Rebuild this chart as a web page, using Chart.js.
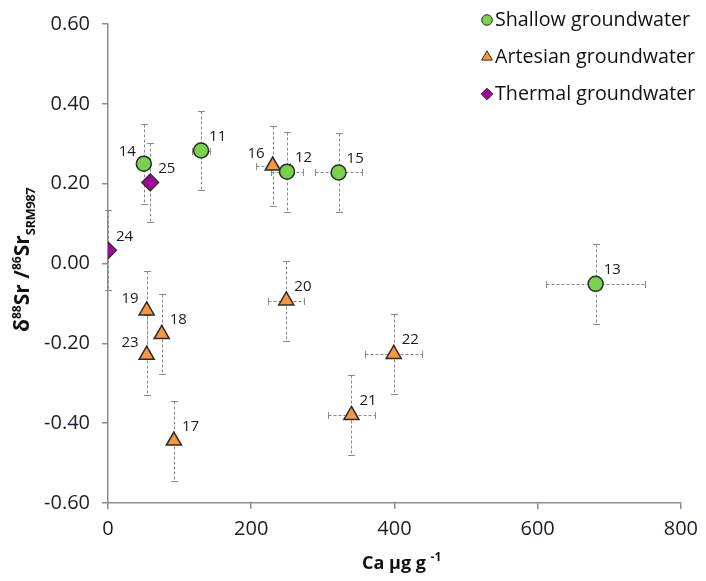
<!DOCTYPE html>
<html>
<head>
<meta charset="utf-8">
<script src="https://cdn.jsdelivr.net/npm/chart.js@4.4.0/dist/chart.umd.min.js"></script>
<style>
  body { margin: 0; background: #fff; }
  #wrap { width: 706px; height: 581px; }
</style>
</head>
<body>
<div id="wrap"><canvas id="myChart" width="706" height="581"></canvas></div>
<script>
// sample numbers, Ca (µg/g), d88Sr and the error bars
const shallowIds = ['11', '12', '13', '14', '15'];
const shallowCa = [130, 250, 681, 50, 322];
const shallowSr = [0.283, 0.230, -0.051, 0.250, 0.228];
const shallowCaErr = [12, 23, 69, 0, 33];
const shallowSrErr = [0.1, 0.1, 0.1, 0.1, 0.1];

const artesianIds = ['16', '17', '18', '19', '20', '21', '22', '23'];
const artesianCa = [230, 92, 75, 54, 249, 340, 399, 54];
const artesianSr = [0.245, -0.444, -0.177, -0.118, -0.093, -0.380, -0.227, -0.229];
const artesianCaErr = [24, 0, 0, 0, 25, 33, 40, 0];
const artesianSrErr = [0.1, 0.1, 0.1, 0.1, 0.1, 0.1, 0.1, 0.1];

const thermalIds = ['24', '25'];
const thermalCa = [0, 59];
const thermalSr = [0.033, 0.203];
const thermalCaErr = [0, 0];
const thermalSrErr = [0.1, 0.1];

const xTicks = [0, 200, 400, 600, 800];
const yTicks = [-0.6, -0.4, -0.2, 0, 0.2, 0.4, 0.6];

function points(ids, ca, sr, caErr, srErr) {
    return ca.map(function (c, i) {
        return { x: c, y: sr[i], xErr: caErr[i], yErr: srErr[i], id: ids[i] };
    });
}

const axisColor = '#8c8c8c';
const leftLabels = ['14', '16', '19', '23'];

// dashed error bars, drawn under the markers
const errorBars = {
    id: 'errorBars',
    beforeDatasetsDraw(chart) {
        const ctx = chart.ctx, xs = chart.scales.x, ys = chart.scales.y;
        ctx.save();
        ctx.strokeStyle = '#8a8a8a';
        ctx.lineWidth = 1;
        chart.data.datasets.forEach(function (ds) {
            ds.data.forEach(function (p) {
                const px = Math.round(xs.getPixelForValue(p.x)) + 0.5;
                const py = Math.round(ys.getPixelForValue(p.y)) + 0.5;
                if (p.yErr) {
                    const t = Math.round(ys.getPixelForValue(p.y + p.yErr)) + 0.5;
                    const b = Math.round(ys.getPixelForValue(p.y - p.yErr)) + 0.5;
                    ctx.setLineDash([3, 2]);
                    ctx.beginPath(); ctx.moveTo(px, t); ctx.lineTo(px, b); ctx.stroke();
                    ctx.setLineDash([]);
                    ctx.beginPath();
                    ctx.moveTo(px - 3.5, t); ctx.lineTo(px + 3.5, t);
                    ctx.moveTo(px - 3.5, b); ctx.lineTo(px + 3.5, b);
                    ctx.stroke();
                }
                if (p.xErr) {
                    const l = Math.round(xs.getPixelForValue(p.x - p.xErr)) + 0.5;
                    const r = Math.round(xs.getPixelForValue(p.x + p.xErr)) + 0.5;
                    ctx.setLineDash([3, 2]);
                    ctx.beginPath(); ctx.moveTo(l, py); ctx.lineTo(r, py); ctx.stroke();
                    ctx.setLineDash([]);
                    ctx.beginPath();
                    ctx.moveTo(l, py - 3.5); ctx.lineTo(l, py + 3.5);
                    ctx.moveTo(r, py - 3.5); ctx.lineTo(r, py + 3.5);
                    ctx.stroke();
                }
            });
        });
        ctx.restore();
    }
};

// sample numbers next to the points
const pointLabels = {
    id: 'pointLabels',
    afterDatasetsDraw(chart) {
        const ctx = chart.ctx, xs = chart.scales.x, ys = chart.scales.y;
        ctx.save();
        ctx.font = '15px "Open Sans"';
        ctx.fillStyle = '#1a1a1a';
        ctx.textBaseline = 'middle';
        chart.data.datasets.forEach(function (ds) {
            ds.data.forEach(function (p) {
                const px = xs.getPixelForValue(p.x), py = ys.getPixelForValue(p.y);
                if (leftLabels.indexOf(p.id) >= 0) {
                    ctx.textAlign = 'right';
                    ctx.fillText(p.id, px - 8, py - 12);
                } else {
                    ctx.textAlign = 'left';
                    ctx.fillText(p.id, px + 8, py - 14);
                }
            });
        });
        ctx.restore();
    }
};

// legend in the top right corner and the two axis titles
const extras = {
    id: 'extras',
    afterDraw(chart) {
        const ctx = chart.ctx;
        ctx.save();
        chart.data.datasets.forEach(function (ds, i) {
            const y = 20 + 37 * i;
            ctx.fillStyle = ds.backgroundColor;
            ctx.strokeStyle = ds.borderColor;
            Chart.helpers.drawPoint(ctx, { pointStyle: ds.pointStyle, radius: ds.legendRadius, borderWidth: 1.2, rotation: 0 }, 487, y);
            ctx.fillStyle = '#111';
            ctx.font = '19.7px "Open Sans"';
            ctx.textAlign = 'left';
            ctx.textBaseline = 'middle';
            ctx.fillText(ds.label, 495, y);
        });

        // x title
        ctx.fillStyle = '#111';
        ctx.textBaseline = 'alphabetic';
        ctx.textAlign = 'left';
        ctx.font = 'bold 18px "Open Sans"';
        const xt = 'Ca µg g ';
        ctx.fillText(xt, 362, 569);
        const w = ctx.measureText(xt).width;
        ctx.font = 'bold 12px "Open Sans"';
        ctx.fillText('-1', 362 + w, 561);

        // y title
        ctx.translate(29, 332);
        ctx.rotate(-Math.PI / 2);
        let x = 0;
        const parts = [
            ['δ', 21, 0], ['88', 12, -8], ['Sr /', 21, 0], ['86', 12, -8], ['Sr', 21, 0], ['SRM987', 13, 6]
        ];
        parts.forEach(function (pt) {
            ctx.font = 'bold ' + pt[1] + 'px "Open Sans"';
            ctx.letterSpacing = pt[0] === 'SRM987' ? '-0.5px' : '0px';
            ctx.fillText(pt[0], x, pt[2]);
            x += ctx.measureText(pt[0]).width;
        });
        ctx.restore();
    }
};

const ctx = document.getElementById('myChart').getContext('2d');
const myChart = new Chart(ctx, {
    type: 'scatter',
    data: {
        datasets: [{
            label: 'Shallow groundwater',
            data: points(shallowIds, shallowCa, shallowSr, shallowCaErr, shallowSrErr),
            pointStyle: 'circle',
            pointRadius: 7.5,
            legendRadius: 5.3,
            backgroundColor: '#78d24a',
            borderColor: '#2b2b2b',
            borderWidth: 1.5
        }, {
            label: 'Artesian groundwater',
            data: points(artesianIds, artesianCa, artesianSr, artesianCaErr, artesianSrErr),
            pointStyle: 'triangle',
            pointRadius: 8.7,
            legendRadius: 6.2,
            backgroundColor: '#f7973f',
            borderColor: '#2b2b2b',
            borderWidth: 1.5
        }, {
            label: 'Thermal groundwater',
            data: points(thermalIds, thermalCa, thermalSr, thermalCaErr, thermalSrErr),
            pointStyle: 'rectRot',
            pointRadius: 8.5,
            legendRadius: 5.8,
            backgroundColor: '#a1069c',
            borderColor: '#2b2b2b',
            borderWidth: 1.2
        }]
    },
    options: {
        responsive: false,
        animation: false,
        events: [],
        layout: { padding: { left: 0, right: 22, top: 16, bottom: 0 } },
        plugins: { legend: { display: false }, tooltip: { enabled: false } },
        scales: {
            x: {
                type: 'linear',
                min: 0, max: 800,
                afterBuildTicks: function (s) { s.ticks = xTicks.map(function (v) { return { value: v }; }); },
                afterFit: function (s) { s.height = 78; },
                grid: { drawOnChartArea: false, drawTicks: true, tickLength: 6, color: axisColor, lineWidth: 1.5 },
                border: { display: true, color: axisColor, width: 1.5 },
                ticks: { color: '#1c1c2e', font: { family: 'Open Sans', size: 20 }, padding: 8, maxRotation: 0,
                    callback: function (v) { return String(v); } }
            },
            y: {
                type: 'linear',
                min: -0.6, max: 0.6,
                afterBuildTicks: function (s) { s.ticks = yTicks.map(function (v) { return { value: v }; }); },
                afterFit: function (s) { s.width = 108; },
                grid: { drawOnChartArea: false, drawTicks: true, tickLength: 6, color: axisColor, lineWidth: 1.5 },
                border: { display: true, color: axisColor, width: 1.5 },
                ticks: { color: '#1c1c2e', font: { family: 'Open Sans', size: 20 }, padding: 12,
                    callback: function (v) { return v.toFixed(2); } }
            }
        }
    },
    plugins: [errorBars, pointLabels, extras]
});
</script>
</body>
</html>
